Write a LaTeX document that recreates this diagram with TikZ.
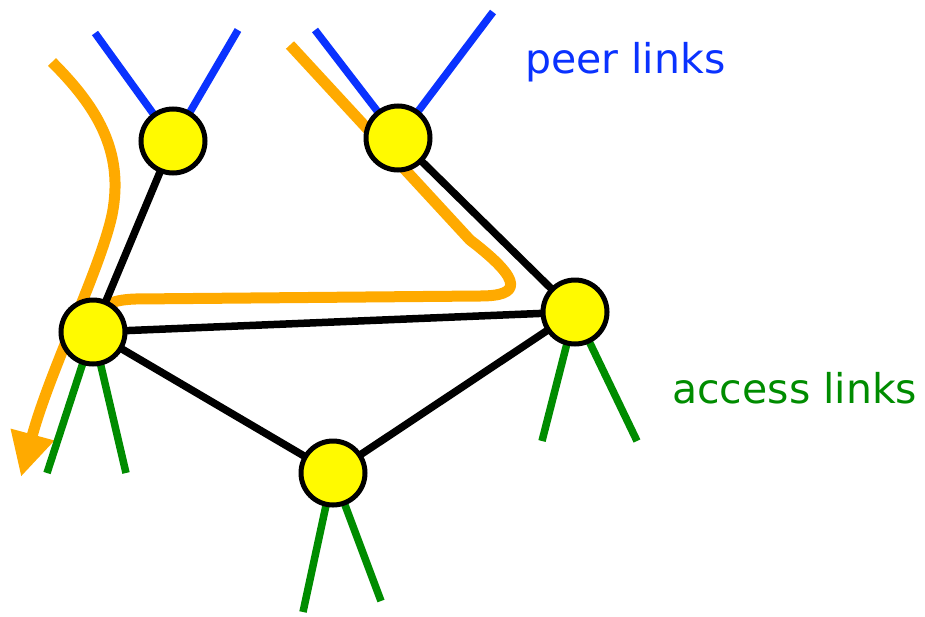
\documentclass[tikz,border=0pt]{standalone}
\usepackage{fontspec}
\setmainfont{DejaVu Sans}
\usetikzlibrary{arrows.meta}
\definecolor{peerblue}{RGB}{10,50,255}
\definecolor{accessgreen}{RGB}{0,140,0}
\definecolor{routeorange}{RGB}{255,170,0}
\definecolor{nodeyellow}{RGB}{255,250,0}
\tikzset{
  router/.style={circle,draw=black,fill=nodeyellow,line width=5pt,minimum size=64pt,inner sep=0pt},
  peer/.style={draw=peerblue,line width=7.5pt},
  access/.style={draw=accessgreen,line width=7.5pt},
  backbone/.style={draw=black,line width=7.5pt},
  route/.style={draw=routeorange,line width=11pt,line join=round},
  lbl/.style={font=\fontsize{41}{45}\selectfont,inner sep=0pt,anchor=west}
}
\begin{document}
\begin{tikzpicture}[x=1pt,y=-1pt]
\useasboundingbox (0,0) rectangle (925,616);
% routers
\coordinate (A) at (173,141);
\coordinate (B) at (398,138);
\coordinate (C) at (93,332);
\coordinate (D) at (575,312);
\coordinate (E) at (333,473);
% free ends of peer and access links
\coordinate (pa1) at (95,33);
\coordinate (pa2) at (238,30);
\coordinate (pb1) at (315,30);
\coordinate (pb2) at (493,12);
\coordinate (ac1) at (47,473);
\coordinate (ac2) at (126,473);
\coordinate (ad1) at (542,441);
\coordinate (ad2) at (637,441);
\coordinate (ae1) at (303,612);
\coordinate (ae2) at (381,601);
% routes (behind everything)
\draw[route,-{Triangle[length=44pt,width=42pt]}] (52,62) .. controls (95,105) and (125,150) .. (112,215)
  .. controls (100,270) and (50,370) .. (21,477);
\draw[route] (290,45) -- (470,240) .. controls (525,282) and (520,296) .. (480,296)
  -- (135,299) .. controls (110,300) and (100,306) .. (95,320);
% peer links
\draw[peer] (pa1) -- (A); \draw[peer] (pa2) -- (A);
\draw[peer] (pb1) -- (B); \draw[peer] (pb2) -- (B);
% access links
\draw[access] (ac1) -- (C); \draw[access] (ac2) -- (C);
\draw[access] (ad1) -- (D); \draw[access] (ad2) -- (D);
\draw[access] (ae1) -- (E); \draw[access] (ae2) -- (E);
% backbone links
\draw[backbone] (A) -- (C);
\draw[backbone] (C) -- (D);
\draw[backbone] (C) -- (E);
\draw[backbone] (E) -- (D);
\draw[backbone] (B) -- (D);
% router nodes
\node[router] (nA) at (A) {};
\node[router] (nB) at (B) {};
\node[router] (nC) at (C) {};
\node[router] (nD) at (D) {};
\node[router] (nE) at (E) {};
% labels
\node[lbl,text=peerblue] (peerlbl) at (525,62) {peer links};
\node[lbl,text=accessgreen] (accesslbl) at (672,388) {access links};
\end{tikzpicture}
\end{document}
